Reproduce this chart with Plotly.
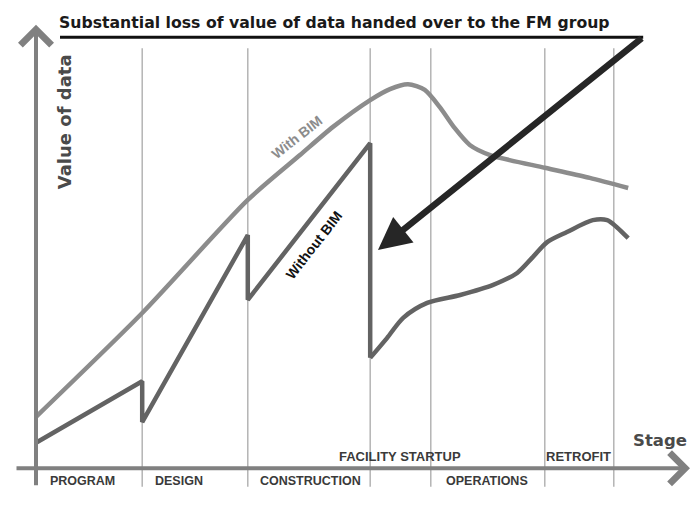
import plotly.graph_objects as go

# ---- data (x: stage position, y: value of data) ----
with_bim_x = [0, 17.7, 35.3, 44.0, 49.5, 55.7, 59.0, 62.0, 64.8, 67.3, 69.8, 72.3, 75.7, 84.8, 92.3, 98.7]
with_bim_y = [11.4, 35.0, 60.7, 70.9, 77.3, 83.4, 85.9, 87.0, 85.7, 81.8, 77.0, 73.2, 70.9, 68.0, 65.7, 63.4]

without_saw_x = [0, 17.7, 17.7, 35.3, 35.3, 55.7, 55.7]
without_saw_y = [5.5, 19.5, 10.2, 52.7, 38.0, 73.6, 24.8]
without_curve_x = [55.7, 58.5, 61.2, 65.2, 70.7, 76.2, 80.2, 82.8, 85.2, 88.5, 92.8, 95.2, 96.8, 98.7]
without_curve_y = [24.8, 29.3, 33.9, 37.3, 39.1, 41.4, 44.1, 47.7, 51.1, 53.4, 56.1, 56.1, 54.5, 52.0]

stage_bounds = [17.7, 35.3, 55.7, 65.8, 84.8, 96.3]
below_labels = ["PROGRAM", "DESIGN", "CONSTRUCTION", "OPERATIONS"]
below_pos = [7.7, 23.8, 45.7, 75.2]
above_labels = ["FACILITY STARTUP", "RETROFIT"]
above_pos = [60.7, 90.5]

title_text = "Substantial loss of value of data handed over to the FM group"
loss_arrow_tail = (101.2, 97.7)
loss_arrow_head = (57.0, 49.3)

X_RANGE = [-6.0, 110.67]
Y_RANGE = [-8.64, 106.14]

FONT = "Liberation Sans, Arial, sans-serif"
FONT_WIDE = "DejaVu Sans, Liberation Sans, sans-serif"
C_WITH = "#8c8c8c"
C_WITHOUT = "#636363"
C_AXIS = "#808080"
C_GRID = "#b4b4b4"

fig = go.Figure()

# stage boundary lines
for b in stage_bounds:
    fig.add_shape(type="line", x0=b, x1=b, y0=-4.5, y1=95.2, xref="x", yref="y",
                  line=dict(color=C_GRID, width=1.5), layer="below")

# title underline
fig.add_shape(type="line", x0=4.0, x1=loss_arrow_tail[0], y0=loss_arrow_tail[1], y1=loss_arrow_tail[1],
              xref="x", yref="y", line=dict(color="#111111", width=3))

fig.add_trace(go.Scatter(x=with_bim_x, y=with_bim_y, mode="lines",
                         line=dict(color=C_WITH, width=4.5, shape="spline", smoothing=0.7),
                         hoverinfo="skip", showlegend=False))
fig.add_trace(go.Scatter(x=without_saw_x, y=without_saw_y, mode="lines",
                         line=dict(color=C_WITHOUT, width=4.5, shape="linear"),
                         hoverinfo="skip", showlegend=False))
fig.add_trace(go.Scatter(x=without_curve_x, y=without_curve_y, mode="lines",
                         line=dict(color=C_WITHOUT, width=4.5, shape="spline", smoothing=0.8),
                         hoverinfo="skip", showlegend=False))

ann = []
# axes arrows
ann.append(dict(x=0, y=100.5, ax=0, ay=-4.5, xref="x", yref="y", axref="x", ayref="y",
                showarrow=True, arrowhead=4, arrowsize=1.5, arrowwidth=4, arrowcolor=C_AXIS,
                standoff=0, text=""))
ann.append(dict(x=109.0, y=-0.3, ax=-3.5, ay=-0.3, xref="x", yref="y", axref="x", ayref="y",
                showarrow=True, arrowhead=4, arrowsize=1.5, arrowwidth=4, arrowcolor=C_AXIS,
                standoff=0, text=""))
# loss arrow
ann.append(dict(x=loss_arrow_head[0], y=loss_arrow_head[1], ax=loss_arrow_tail[0], ay=loss_arrow_tail[1],
                xref="x", yref="y", axref="x", ayref="y",
                showarrow=True, arrowhead=2, arrowsize=1.0, arrowwidth=6.5, arrowcolor="#262626",
                standoff=0, text=""))

ann.append(dict(x=49.8, y=101.0, xref="x", yref="y", text="<b>" + title_text + "</b>", showarrow=False,
                font=dict(family=FONT_WIDE, size=15.7, color="#1a1a1a")))
ann.append(dict(x=4.7, y=78.4, xref="x", yref="y", text="<b>Value of data</b>", showarrow=False,
                textangle=-90, font=dict(family=FONT_WIDE, size=18, color="#4a4a4a")))
ann.append(dict(x=104.0, y=6.0, xref="x", yref="y", text="<b>Stage</b>", showarrow=False,
                font=dict(family=FONT_WIDE, size=16.5, color="#4a4a4a")))
ann.append(dict(x=43.5, y=75.0, xref="x", yref="y", text="<b>With BIM</b>", showarrow=False,
                textangle=-38, font=dict(family=FONT, size=14, color=C_WITH)))
ann.append(dict(x=46.3, y=50.5, xref="x", yref="y", text="<b>Without BIM</b>", showarrow=False,
                textangle=-52, font=dict(family=FONT, size=14, color="#111111")))

for t, p in zip(below_labels, below_pos):
    ann.append(dict(x=p, y=-3.2, xref="x", yref="y", text="<b>" + t + "</b>", showarrow=False,
                    font=dict(family=FONT, size=12.5, color="#3a3a3a")))
for t, p in zip(above_labels, above_pos):
    ann.append(dict(x=p, y=2.3, xref="x", yref="y", text="<b>" + t + "</b>", showarrow=False,
                    font=dict(family=FONT, size=13, color="#3a3a3a")))

fig.update_layout(
    width=700, height=505,
    margin=dict(l=0, r=0, t=0, b=0),
    paper_bgcolor="white", plot_bgcolor="white",
    xaxis=dict(range=X_RANGE, visible=False, fixedrange=True),
    yaxis=dict(range=Y_RANGE, visible=False, fixedrange=True),
    annotations=ann,
    showlegend=False,
)

fig.write_html("out.html", config={"displayModeBar": False},
               post_script="document.body.style.margin='0';document.body.style.padding='0';")
